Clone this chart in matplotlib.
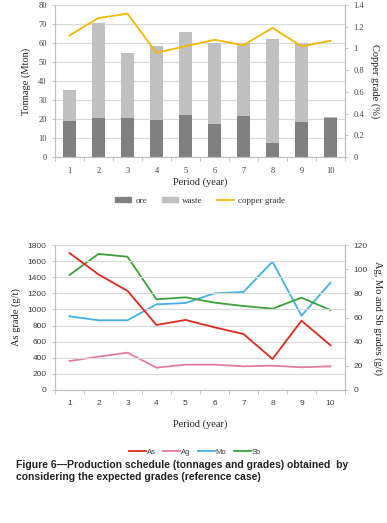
import numpy as np
import matplotlib
matplotlib.use("Agg")
import matplotlib.pyplot as plt
from matplotlib.patches import Patch
from matplotlib.lines import Line2D

# ---- data ----
periods = [1, 2, 3, 4, 5, 6, 7, 8, 9, 10]
ore = [19.0, 20.5, 20.3, 19.5, 22.0, 17.3, 21.5, 7.4, 18.2, 20.7]
total = [35.5, 70.5, 54.5, 58.5, 66.0, 59.8, 59.8, 62.1, 59.8, 21.1]
waste = [t - o for t, o in zip(total, ore)]
copper_grade = [1.12, 1.28, 1.32, 0.96, 1.02, 1.08, 1.03, 1.19, 1.02, 1.07]

as_grade = [1700, 1435, 1230, 807, 870, 778, 695, 385, 860, 555]
ag_grade = [24.0, 27.6, 30.9, 18.5, 21.0, 21.0, 19.6, 20.1, 18.8, 19.6]
mo_grade = [61.0, 57.7, 57.7, 70.9, 72.0, 80.0, 81.1, 106.2, 61.5, 88.8]
sb_grade = [95.2, 112.6, 110.3, 75.0, 76.7, 72.3, 69.5, 67.3, 76.4, 66.2]

# ---- styling ----
grid_c = "#d9d9d9"
spine_c = "#bfbfbf"
text_c = "#404040"
serif = "Liberation Serif"
sans = "Liberation Sans"

fig = plt.figure(figsize=(3.87, 5.23), dpi=100)
fig.patch.set_facecolor("white")


def style_axes(ax, ax2, font):
    for a in (ax, ax2):
        for s in a.spines.values():
            s.set_color(spine_c)
            s.set_linewidth(0.8)
        a.spines["top"].set_visible(False)
        a.tick_params(colors=spine_c, labelcolor=text_c, labelsize=6, length=2.5, width=0.6)
        for lbl in a.get_yticklabels():
            lbl.set_fontfamily(font)
    ax.set_xlim(0.5, 10.5)
    ax.set_xticks(periods)
    ax.set_xticklabels([str(p) for p in periods], fontfamily=font)
    ax.set_xticks(np.arange(0.5, 11, 1), minor=True)
    ax.tick_params(axis="x", which="major", length=0, pad=7)
    ax.tick_params(axis="x", which="minor", length=3, color=spine_c, width=0.6)
    ax.yaxis.grid(True, color=grid_c, linewidth=0.8)
    ax.set_axisbelow(True)


# ---- top chart: tonnages and copper grade ----
ax1 = fig.add_axes([55 / 387, 1 - 157 / 523, 290 / 387, 152 / 523])
ax1b = ax1.twinx()
ax1.bar(periods, ore, width=0.42, color="#808080", zorder=2)
ax1.bar(periods, waste, width=0.42, bottom=ore, color="#c0c0c0", zorder=2)
ax1b.plot(periods, copper_grade, color="#f5b800", linewidth=1.3)
ax1.set_ylim(0, 80)
ax1.set_yticks(range(0, 81, 10))
ax1b.set_ylim(0, 1.4)
ax1b.set_yticks([0, 0.2, 0.4, 0.6, 0.8, 1.0, 1.2, 1.4])
ax1b.set_yticklabels(["0", "0.2", "0.4", "0.6", "0.8", "1", "1.2", "1.4"])
style_axes(ax1, ax1b, serif)
ax1.set_xlabel("Period (year)", fontfamily=serif, fontsize=7.5, color="#222222", labelpad=2)
ax1.set_ylabel("Tonnage (Mton)", fontfamily=serif, fontsize=7.5, color="#222222", labelpad=5)
ax1b.set_ylabel("Copper grade (%)", fontfamily=serif, fontsize=7.5, color="#222222",
                rotation=270, labelpad=11)

handles1 = [Patch(color="#808080"), Patch(color="#c0c0c0"),
            Line2D([], [], color="#f5b800", linewidth=1.3)]
fig.legend(handles1, ["ore", "waste", "copper grade"], loc="center",
           bbox_to_anchor=(200 / 387, 1 - 201 / 523), ncol=3, frameon=False,
           prop={"family": serif, "size": 6.5}, handlelength=1.8, handleheight=0.5,
           columnspacing=1.6, handletextpad=0.5, labelcolor="#333333")

# ---- bottom chart: As, Ag, Mo, Sb grades ----
ax2 = fig.add_axes([55 / 387, 1 - 390 / 523, 290 / 387, 145 / 523])
ax2b = ax2.twinx()
ax2.plot(periods, as_grade, color="#dc2a1e", linewidth=1.3, zorder=3)
ax2b.plot(periods, ag_grade, color="#e47aa4", linewidth=1.3)
ax2b.plot(periods, mo_grade, color="#45b0e6", linewidth=1.3)
ax2b.plot(periods, sb_grade, color="#3aa23a", linewidth=1.3)
ax2.set_ylim(0, 1800)
ax2.set_yticks(range(0, 1801, 200))
ax2b.set_ylim(0, 120)
ax2b.set_yticks(range(0, 121, 20))
style_axes(ax2, ax2b, sans)
ax2.set_zorder(ax2b.get_zorder() + 1)
ax2.patch.set_visible(False)
ax2.set_xlabel("Period (year)", fontfamily=serif, fontsize=7.5, color="#222222", labelpad=9)
ax2.set_ylabel("As grade (g/t)", fontfamily=serif, fontsize=7.5, color="#222222", labelpad=5)
ax2b.set_ylabel("Ag, Mo and Sb grades (g/t)", fontfamily=serif, fontsize=7.5,
                color="#222222", rotation=270, labelpad=11)

handles2 = [Line2D([], [], color=c, linewidth=1.3)
            for c in ("#dc2a1e", "#e47aa4", "#45b0e6", "#3aa23a")]
fig.legend(handles2, ["As", "Ag", "Mo", "Sb"], loc="center",
           bbox_to_anchor=(195 / 387, 1 - 452 / 523), ncol=4, frameon=False,
           prop={"family": sans, "size": 5.5}, handlelength=2.2, handletextpad=0.1,
           columnspacing=1.0, labelcolor="#404040")

# ---- caption ----
fig.text(16 / 387, 1 - 460 / 523,
         "Figure 6\u2014Production schedule (tonnages and grades) obtained  by\n"
         "considering the expected grades (reference case)",
         fontfamily=sans, fontweight="bold", fontsize=7.5, color="#222222",
         va="top", ha="left", linespacing=1.3)

fig.savefig("out.png", dpi=100, facecolor="white")
